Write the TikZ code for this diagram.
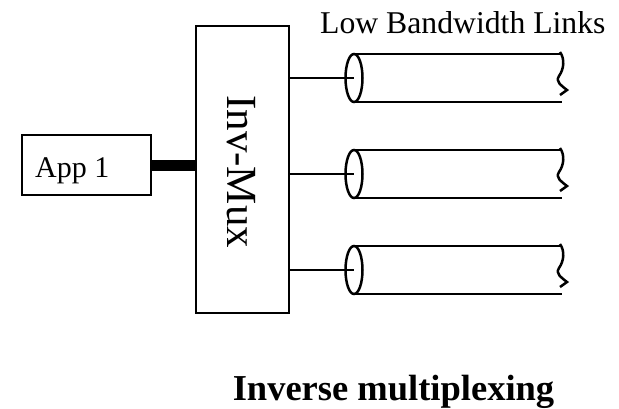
\documentclass[tikz,border=0pt]{standalone}
\usepackage{fontspec}
\setmainfont{Liberation Serif}
\usetikzlibrary{positioning}
\tikzset{
	boxnode/.style={draw, line width=2.5pt, inner sep=0pt}
}
\tikzset{
	plaintext/.style={inner sep=0pt, font=\fontsize{30}{30}\selectfont}
}
\tikzset{
  lowlink/.pic={
    \draw[line width=2.5pt] (0,-24) -- (206,-24);
    \draw[line width=2.5pt] (0,24) -- (208,24);
    \draw[line width=2.5pt] (206,-26) .. controls (211,-19) and (210,-9) .. (205,-2)
      .. controls (201,4) and (208,8) .. (213,12) -- (206,17);
    \draw[line width=2.5pt] (0,0) ellipse (8.5 and 24);
  }
}

\begin{document}
\begin{tikzpicture}[x=1pt, y=-1pt]
      \useasboundingbox (0,0) rectangle (619,408);
      \node[boxnode, minimum width=129pt, minimum height=60pt] (app) at (86.5,165) {};
      \node[plaintext, anchor=base west] (apptext) at (35,177) {App 1};
      \node[boxnode, minimum width=93pt, minimum height=287pt] (mux) at (242.5,169.5) {};
      \node[plaintext, font=\fontsize{43}{43}\selectfont, rotate=-90, anchor=base west] (muxtext) at (227,95) {Inv-Mux};
      % fat lead from the application into the inverse mux
      \draw[line width=11pt] (app.east) -- (app.east -| mux.west);
      \coordinate (link1) at (354,78);
      \coordinate (link2) at (354,174);
      \coordinate (link3) at (354,270);
      \pic at (link1) {lowlink};
      \pic at (link2) {lowlink};
      \pic at (link3) {lowlink};
      \draw[line width=2.5pt] (link1 -| mux.east) -- (link1);
      \draw[line width=2.5pt] (link2 -| mux.east) -- (link2);
      \draw[line width=2.5pt] (link3 -| mux.east) -- (link3);
      \node[plaintext, font=\fontsize{31.7}{31.7}\selectfont, anchor=base west] (linkstext) at (320,33) {Low Bandwidth Links};
      \node[plaintext, font=\bfseries\fontsize{36.5}{36.5}\selectfont, anchor=base] (title) at (393.5,400) {Inverse multiplexing};
    \end{tikzpicture}
\end{document}
